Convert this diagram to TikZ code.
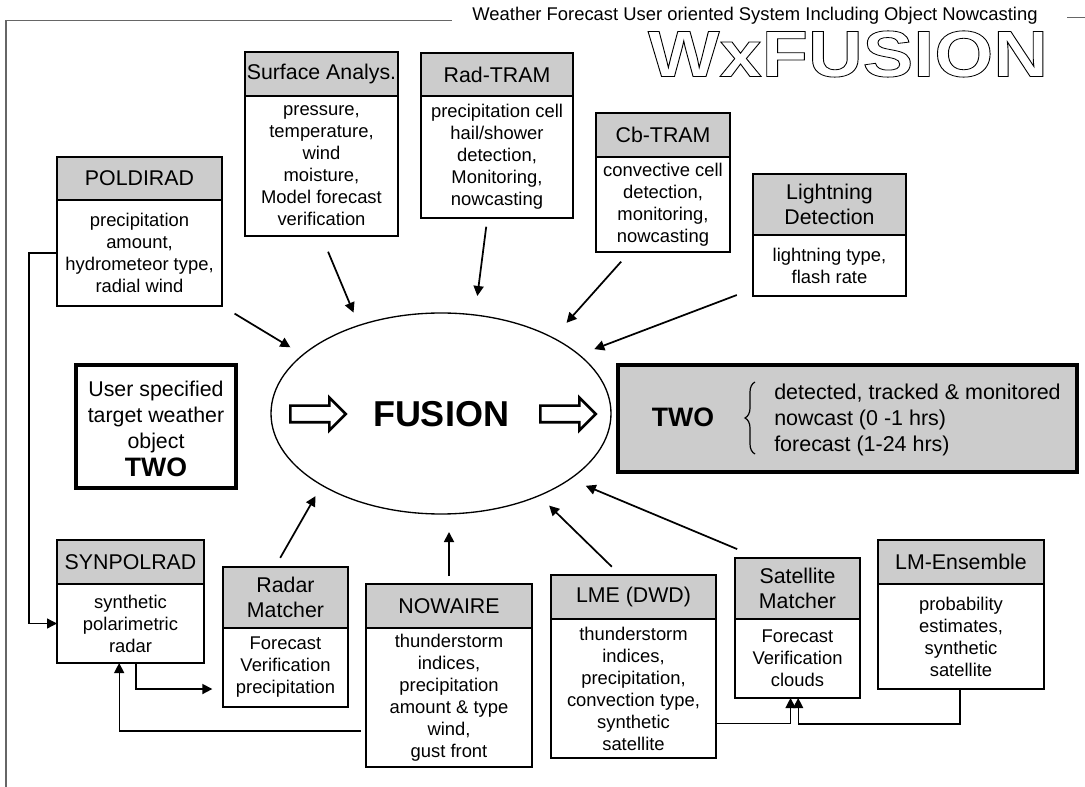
\documentclass[tikz,border=0pt]{standalone}
\usepackage{fontspec}
\setmainfont{Liberation Sans}
\usetikzlibrary{arrows.meta, shapes.geometric, shapes.arrows, decorations.pathreplacing}
\definecolor{headgray}{HTML}{CCCCCC}
\newcommand{\headsize}{\fontsize{16}{18.75}\selectfont}
\newcommand{\bodysize}{\fontsize{13.8}{16.5}\selectfont}
\newcommand{\twosize}{\fontsize{20}{22}\selectfont\bfseries}
\tikzset{
  boxhead/.style={rectangle,draw,fill=headgray,line width=1.3pt,inner sep=0pt,outer sep=0pt,align=center,font=\headsize},
  boxbody/.style={rectangle,draw,line width=1.3pt,inner sep=0pt,outer sep=0pt,align=center,font=\bodysize},
  thickbox/.style={rectangle,draw,line width=2.6pt,inner sep=0pt,outer sep=0pt},
  hollowarrow/.style={single arrow,draw,line width=2pt,anchor=tail,inner xsep=0pt,inner ysep=5.25pt,minimum height=41.5pt,minimum width=22pt,single arrow head extend=6pt},
  flowline/.style={->,line width=1.3pt},
  thinline/.style={->,line width=1pt},
}
\begin{document}
\begin{tikzpicture}[x=.75pt,y=-.75pt,>={Triangle[length=7.5pt,width=7.5pt]}]
    \useasboundingbox (0,0) rectangle (1085,787);
    % outer frame and title
    \draw[black!60,line width=.9pt] (451.5,20.5) -- (6,20.5) -- (6,787);
    \draw[black!60,line width=.7pt] (1067,17) -- (1085,17);
    \node (title) at (755,16) [font=\fontsize{13.8}{16}\selectfont] {Weather Forecast User oriented System Including Object Nowcasting};
    \node (logo) at (848,54) [font=\fontsize{49}{49}\selectfont\bfseries,inner sep=0pt] {\scalebox{1.16}[1]{\special{pdf:code 1 Tr .6 w}WxFUSION\special{pdf:code 0 Tr}}};

    % top row
    \node (poldiradhead) at (139.5,178.5) [boxhead,minimum width=123.75pt,minimum height=32.25pt] {POLDIRAD};
    \node (poldiradbody) at (139.5,253) [boxbody,minimum width=123.75pt,minimum height=79.5pt] {precipitation\\amount,\\hydrometeor type,\\radial wind};
    \node (surfacehead) at (321.5,74) [boxhead,minimum width=114.75pt,minimum height=33pt] {Surface Analys.};
    \node (surfacebody) at (321.5,166) [boxbody,minimum width=114.75pt,minimum height=105pt] {pressure,\\temperature,\\wind\\moisture,\\Model forecast\\verification};
    \node (radhead) at (497,74.5) [boxhead,minimum width=114pt,minimum height=32.25pt] {Rad-TRAM};
    \node (radbody) at (497,157) [boxbody,minimum width=114pt,minimum height=91.5pt] {precipitation cell\\hail/shower\\detection,\\Monitoring,\\nowcasting};
    \node (cbhead) at (663,135) [boxhead,minimum width=100.5pt,minimum height=33pt] {Cb-TRAM};
    \node (cbbody) at (663,204.5) [boxbody,minimum width=100.5pt,minimum height=71.25pt] {convective cell\\detection,\\monitoring,\\nowcasting};
    \node (lightninghead) at (829.5,204.5) [boxhead,minimum width=114.75pt,minimum height=45.75pt] {Lightning\\Detection};
    \node (lightningbody) at (829.5,265.5) [boxbody,minimum width=114.75pt,minimum height=45.75pt] {lightning type,\\flash rate};

    % middle row
    \node (fusion) at (441,413.5) [ellipse,draw,line width=1pt,inner sep=0pt,outer sep=0pt,minimum width=255pt,minimum height=150.75pt] {};
    \node (fusionlabel) at (441,414) [font=\fontsize{27}{30}\selectfont\bfseries] {FUSION};
    \node (fusionin) at (289,414) [hollowarrow] {};
    \node (fusionout) at (539,414) [hollowarrow] {};
    \node (userbox) at (156,426.5) [thickbox,minimum width=120pt,minimum height=92.25pt] {};
    \node (usertext) at (156,429) [align=center,font=\fontsize{16}{19.5}\selectfont] {User specified\\target weather\\object\\[1pt]{\twosize TWO}};
    \node (twobox) at (847.5,418.5) [thickbox,fill=headgray,minimum width=344.25pt,minimum height=80.25pt] {};
    \node (twolabel) at (683,417) [font=\twosize] {TWO};
    \draw[line width=.9pt,decorate,decoration={brace,amplitude=7.5pt}] (755,454) -- (755,382);
    \node (twotext) at (774,420) [anchor=west,inner sep=0pt,align=left,font=\fontsize{16.1}{19.5}\selectfont] {detected, tracked \& monitored\\nowcast (0 -1 hrs)\\forecast (1-24 hrs)};

    % bottom row
    \node (synpolradhead) at (130.5,562) [boxhead,minimum width=110.25pt,minimum height=33pt] {SYNPOLRAD};
    \node (synpolradbody) at (130.5,623.5) [boxbody,minimum width=110.25pt,minimum height=59.25pt] {synthetic\\polarimetric\\radar};
    \node (radarhead) at (285.5,597.5) [boxhead,minimum width=93.75pt,minimum height=45.75pt] {Radar\\Matcher};
    \node (radarbody) at (285.5,667.5) [boxbody,minimum width=93.75pt,minimum height=59.25pt] {Forecast\\Verification\\precipitation};
    \node (nowairehead) at (449,606) [boxhead,minimum width=124.5pt,minimum height=33pt] {NOWAIRE};
    \node (nowairebody) at (449,697.5) [boxbody,minimum width=124.5pt,minimum height=104.25pt] {thunderstorm\\indices,\\precipitation\\amount \& type\\wind,\\gust front};
    \node (lmehead) at (633.5,597) [boxhead,minimum width=123.75pt,minimum height=33pt] {LME (DWD)};
    \node (lmebody) at (633.5,688.5) [boxbody,minimum width=123.75pt,minimum height=104.25pt] {thunderstorm\\indices,\\precipitation,\\convection type,\\synthetic\\satellite};
    \node (sathead) at (797.5,588.5) [boxhead,minimum width=93.75pt,minimum height=45.75pt] {Satellite\\Matcher};
    \node (satbody) at (797.5,658.5) [boxbody,minimum width=93.75pt,minimum height=59.25pt] {Forecast\\Verification\\clouds};
    \node (ensemblehead) at (961,562) [boxhead,minimum width=124.5pt,minimum height=33pt] {LM-Ensemble};
    \node (ensemblebody) at (961,636.5) [boxbody,minimum width=124.5pt,minimum height=78.75pt] {probability\\estimates,\\synthetic\\satellite};

    % arrows into the ellipse
    \draw[flowline,shorten <=11pt,shorten >=11pt] (poldiradbody.south east) -- (fusion.157.6);
    \draw[flowline,shorten <=12.8pt,shorten >=10.5pt] (surfacebody.south) -- (fusion.133.9);
    \draw[flowline,shorten <=6.6pt,shorten >=14.4pt] (radbody.-99.5) -- (fusion.71.1);
    \draw[flowline,shorten <=9.7pt,shorten >=15.2pt] (cbbody.-125.9) -- (fusion.34.3);
    \draw[flowline,shorten <=13pt,shorten >=12.2pt] (lightningbody.197.8) -- (fusion.23.5);
    \draw[flowline,shorten <=7.9pt,shorten >=9.5pt] (radarhead.109.8) -- (fusion.211.8);
    \draw[flowline,shorten <=6pt,shorten >=13.5pt] (nowairehead.north) -- (nowairehead.north |- fusion.south);
    \draw[flowline,shorten <=8.9pt,shorten >=10.7pt] (lmehead.121.5) -- (fusion.-40);
    \draw[flowline,shorten <=17.3pt,shorten >=13pt] (sathead.142.3) -- (fusion.-27.8);

    % links between the boxes
    \draw[thinline] (poldiradbody.west) -- ++(-28,0) |- (synpolradbody.west);
    \draw[flowline,shorten >=8pt] (synpolradbody.-82) |- (radarbody.199);
    \draw[thinline,shorten <=4pt] (nowairebody.202.6) -| (synpolradbody.-106.2);
    \draw[thinline] (lmebody.-23.3) -| (satbody.-100.75);
    \draw[thinline] (ensemblebody.-91) -- ++(0,35) -| (satbody.-89.3);
\end{tikzpicture}
\end{document}
